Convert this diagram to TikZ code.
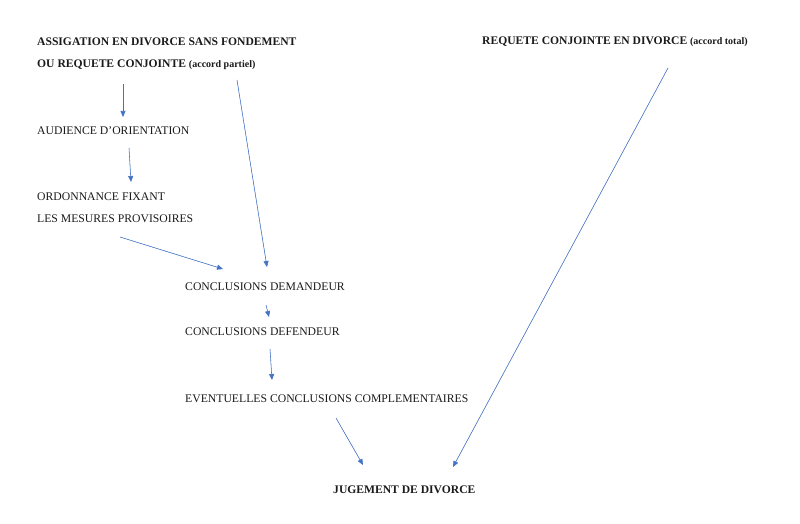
\documentclass[tikz,border=0pt]{standalone}
\usepackage{fontspec}
\setmainfont{Liberation Serif}
\usetikzlibrary{arrows.meta}
\definecolor{arrblue}{HTML}{4472C4}
\definecolor{txt}{HTML}{1A1A1A}
\begin{document}
\begin{tikzpicture}[x=1pt,y=-1pt,
  lbl/.style={anchor=west,inner sep=0pt,font=\fontsize{11.7}{14}\selectfont,text=txt},
  blbl/.style={lbl,font=\fontsize{11.6}{14}\selectfont\bfseries},
  conn/.style={draw=arrblue,line width=0.55pt,-{Triangle[length=6pt,width=5pt]},fill=arrblue}]
\useasboundingbox (0,0) rectangle (800,524);
\fill[white] (0,0) rectangle (800,524);
\node[blbl] (assig) at (37,42) {ASSIGATION EN DIVORCE SANS FONDEMENT};
\node[blbl] (ourq) at (37,65) {OU REQUETE CONJOINTE {\fontsize{10}{12}\selectfont(accord partiel)}};
\node[blbl] (rqc) at (482,42) {REQUETE CONJOINTE EN DIVORCE {\fontsize{10}{12}\selectfont(accord total)}};
\node[lbl] (aud) at (37,131) {AUDIENCE D'ORIENTATION};
\node[lbl] (ord1) at (37,197) {ORDONNANCE FIXANT};
\node[lbl] (ord2) at (37,219) {LES MESURES PROVISOIRES};
\node[lbl] (cdem) at (185,287) {CONCLUSIONS DEMANDEUR};
\node[lbl] (cdef) at (185,332) {CONCLUSIONS DEFENDEUR};
\node[lbl] (ecc) at (185,399) {EVENTUELLES CONCLUSIONS COMPLEMENTAIRES};
\node[blbl] (jug) at (333,490) {JUGEMENT DE DIVORCE};
% connector end points
\coordinate (a1s) at (123,84);  \coordinate (a1e) at (123,117);
\coordinate (a2s) at (129,148); \coordinate (a2e) at (131,182);
\coordinate (a3s) at (120,237); \coordinate (a3e) at (223,269);
\coordinate (a4s) at (237,80);  \coordinate (a4e) at (267,267);
\coordinate (a5s) at (266,305); \coordinate (a5e) at (269,317);
\coordinate (a6s) at (270,349); \coordinate (a6e) at (272,380);
\coordinate (a7s) at (336,418); \coordinate (a7e) at (363,465);
\coordinate (a8s) at (668,68);  \coordinate (a8e) at (453,467);
\foreach \i in {1,...,8} \draw[conn] (a\i s) -- (a\i e);
\end{tikzpicture}
\end{document}
